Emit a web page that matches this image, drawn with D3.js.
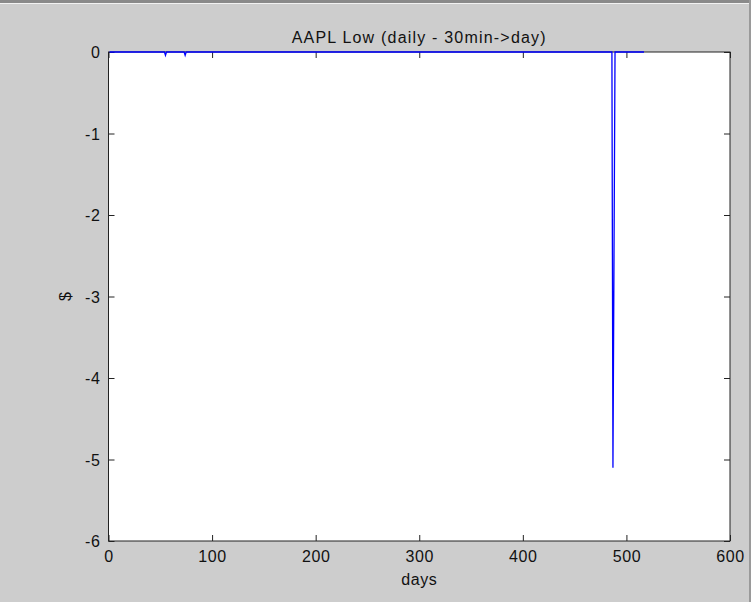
<!DOCTYPE html>
<html>
<head>
<meta charset="utf-8">
<script src="https://cdn.jsdelivr.net/npm/d3@7"></script>
<style>
  body { margin: 0; background: #cdcdcd; }
  svg { display: block; }
  text { font-family: "Liberation Sans", Arial, sans-serif; fill: #111; }
</style>
</head>
<body>
<svg id="chart" width="751" height="602"></svg>
<script>
// values (day, low difference in $)
var days = [1, 54, 55, 56, 73, 74, 75, 486, 487, 488, 489, 517];
var lowDiff = [0, 0, -0.04, 0, 0, -0.04, 0, 0, -5.1, -2.55, 0, 0];
var xTicks = [0, 100, 200, 300, 400, 500, 600];
var yTicks = [0, -1, -2, -3, -4, -5, -6];

var svg = d3.select("#chart");
var W = 751, H = 602;
var axLeft = 108.5, axRight = 730, axTop = 52, axBottom = 541;
var tickLen = 6;

// window chrome at the top
svg.append("rect").attr("x", 0).attr("y", 0).attr("width", W).attr("height", 3).attr("fill", "#8a8a8a");
svg.append("rect").attr("x", 0).attr("y", 3).attr("width", W).attr("height", 1).attr("fill", "#f2f2f2");
svg.append("rect").attr("x", W - 2).attr("y", 0).attr("width", 2).attr("height", H).attr("fill", "#9a9a9a");

var x = d3.scaleLinear().domain([0, 600]).range([axLeft, axRight]);
var y = d3.scaleLinear().domain([-6, 0]).range([axBottom, axTop]);

svg.append("rect")
  .attr("x", axLeft).attr("y", axTop)
  .attr("width", axRight - axLeft).attr("height", axBottom - axTop)
  .attr("fill", "#fff");

var axisStyle = g => {
  g.select(".domain").remove();
  g.selectAll("line").attr("stroke", "#222");
  g.selectAll("text").attr("font-size", "16px").attr("fill", "#111").style("letter-spacing", "0.6px");
};

// plain hyphen minus like the original
var fmt = d => String(d);

// bottom axis with labels, ticks inward
svg.append("g")
  .attr("transform", `translate(0,${axBottom})`)
  .call(d3.axisBottom(x).tickValues(xTicks).tickFormat(fmt).tickSize(-tickLen).tickPadding(10))
  .call(axisStyle);

// top ticks only
svg.append("g")
  .attr("transform", `translate(0,${axTop})`)
  .call(d3.axisTop(x).tickValues(xTicks).tickFormat("").tickSize(-tickLen))
  .call(axisStyle);

// left axis with labels
svg.append("g")
  .attr("transform", `translate(${axLeft},0)`)
  .call(d3.axisLeft(y).tickValues(yTicks).tickFormat(fmt).tickSize(-tickLen).tickPadding(8))
  .call(axisStyle)
  .call(g => g.selectAll("text").attr("dy", "0.36em"));

// right ticks only
svg.append("g")
  .attr("transform", `translate(${axRight},0)`)
  .call(d3.axisRight(y).tickValues(yTicks).tickFormat("").tickSize(-tickLen))
  .call(axisStyle);

// frame
svg.append("rect")
  .attr("x", axLeft).attr("y", axTop)
  .attr("width", axRight - axLeft).attr("height", axBottom - axTop)
  .attr("fill", "none").attr("stroke", "#222").attr("stroke-width", 1);

// the series
var line = d3.line()
  .x((d, i) => x(days[i]))
  .y(d => y(d));

svg.append("path")
  .datum(lowDiff)
  .attr("d", line)
  .attr("fill", "none")
  .attr("stroke", "#0000ff")
  .attr("stroke-width", 1.3);

// title and labels
svg.append("text")
  .attr("x", (axLeft + axRight) / 2).attr("y", 43)
  .attr("text-anchor", "middle")
  .attr("font-size", "16px")
  .style("letter-spacing", "1.2px")
  .text("AAPL Low (daily - 30min->day)");

svg.append("text")
  .attr("x", (axLeft + axRight) / 2).attr("y", 585)
  .attr("text-anchor", "middle")
  .attr("font-size", "16px")
  .style("letter-spacing", "0.6px")
  .text("days");

svg.append("text")
  .attr("transform", `translate(71,${(axTop + axBottom) / 2}) rotate(-90)`)
  .attr("text-anchor", "middle")
  .attr("font-size", "16px")
  .text("$");
</script>
</body>
</html>
